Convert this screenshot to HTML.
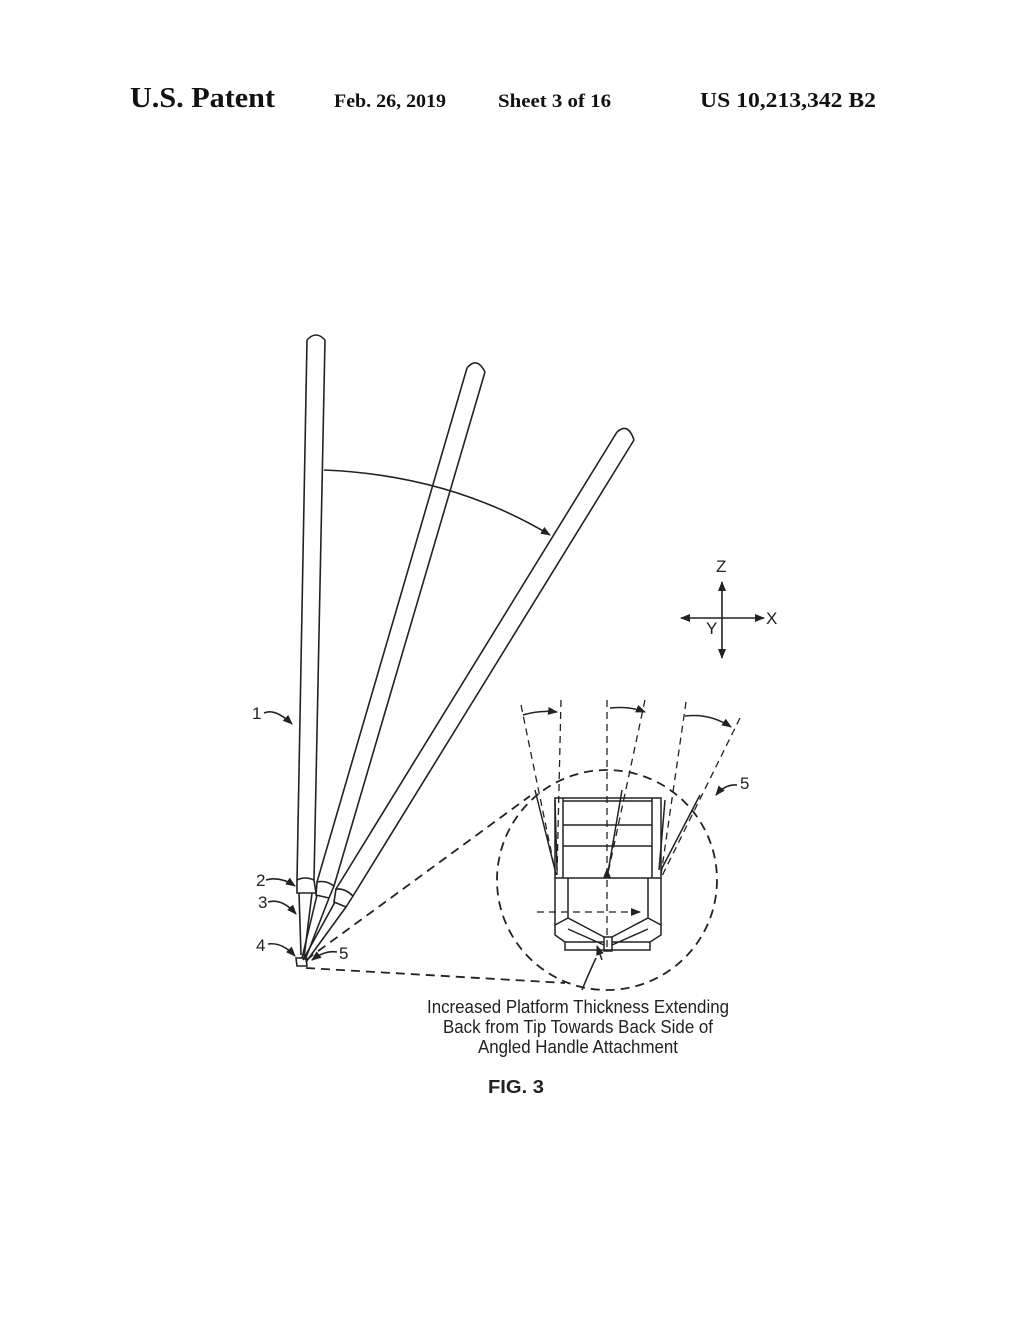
<!DOCTYPE html>
<html><head><meta charset="utf-8"><style>html,body{margin:0;padding:0;background:#fff}svg{display:block}</style></head>
<body>
<svg width="1020" height="1320" viewBox="0 0 1020 1320" xmlns="http://www.w3.org/2000/svg">
<defs><marker id="a" markerWidth="10" markerHeight="8" refX="9" refY="4" orient="auto" markerUnits="userSpaceOnUse"><path d="M0,0 L10,4 L0,8 Z" fill="#222"/></marker></defs>
<g font-family="Liberation Serif, serif" font-weight="bold" fill="#111">
<text x="130" y="107" font-size="29" textLength="145" lengthAdjust="spacingAndGlyphs">U.S. Patent</text>
<text x="334" y="107" font-size="19" textLength="112" lengthAdjust="spacingAndGlyphs">Feb. 26, 2019</text>
<text x="498" y="107" font-size="19" textLength="113" lengthAdjust="spacingAndGlyphs">Sheet 3 of 16</text>
<text x="700" y="107" font-size="21" textLength="176" lengthAdjust="spacingAndGlyphs">US 10,213,342 B2</text>
</g>
<g stroke="#222" stroke-width="1.6" fill="none">
<!-- handle 1 -->
<path d="M307,340 L297,880 M325,340 L314,880 M307,340 Q316,330 325,340"/>
<path d="M297,880 Q305,876 314,880 L316,893 L297,893 Z M299,893 L301,955 M312,893 L304,958"/>
<!-- handle 2 -->
<path d="M467,368 L317,882 M485,372 L334,886 M467,368 Q477,356 485,372"/>
<path d="M317,882 Q326,880 334,886 L329,898 L316,895 Z M317,895 L302,958 M329,898 L305,960"/>
<!-- handle 3 -->
<path d="M617,432 L336,889 M634,440 L353,896 M617,432 Q628,422 634,440"/>
<path d="M336,889 Q345,888 353,896 L346,907 L334,902 Z M335,902 L303,960 M346,907 L306,962"/>
<path d="M296,958 L306,958 L307,966 L297,966 Z"/>
<!-- angle arc -->
<path d="M324,470 Q450,475 550,535" marker-end="url(#a)"/>
<!-- axes -->
<path d="M722,618 L722,582" marker-end="url(#a)"/>
<path d="M722,618 L722,658" marker-end="url(#a)"/>
<path d="M722,618 L764,618" marker-end="url(#a)"/>
<path d="M722,618 L681,618" marker-end="url(#a)"/>
<!-- leader arrows for labels -->
<path d="M264,713 Q275,708 292,724" marker-end="url(#a)"/>
<path d="M266,880 Q280,876 295,886" marker-end="url(#a)"/>
<path d="M268,902 Q282,898 296,914" marker-end="url(#a)"/>
<path d="M268,944 Q282,942 295,956" marker-end="url(#a)"/>
<path d="M337,952 Q325,950 312,960" marker-end="url(#a)"/>
<path d="M737,785 Q725,784 716,795" marker-end="url(#a)"/>
</g>
<!-- callout dashed -->
<g stroke="#222" stroke-width="1.8" fill="none" stroke-dasharray="9,6">
<circle cx="607" cy="880" r="110"/>
<path d="M306,960 L530,796"/>
<path d="M306,968 L565,983"/>
</g>
<!-- detail -->
<g stroke="#222" stroke-width="1.5" fill="none">
<rect x="555" y="798" width="106" height="80"/>
<path d="M563,798 V878 M652,798 V878 M563,801 H652 M563,825 H652 M563,846 H652"/>
<path d="M555,878 V925 L568,918 L604,937 M661,878 V925 L648,918 L612,937 M568,878 V918 M648,878 V918"/>
<path d="M555,925 V935 L565,942 V950 H650 V942 L661,935 V925"/>
<path d="M565,942 H604 M612,942 H650 M568,929 L604,945 M648,929 L612,945"/>
<rect x="604" y="937" width="8" height="14"/>
<path d="M555,870 L535,790 M661,870 L700,795 M607,878 L622,790 M557,870 L555,800 M659,870 L665,800"/>
<path d="M596,958 Q588,975 582,990"/>
<path d="M602,960 L597,946" marker-end="url(#a)"/>
<path d="M523,715 Q540,710 557,712" marker-end="url(#a)"/>
<path d="M610,708 Q630,706 645,712" marker-end="url(#a)"/>
<path d="M685,716 Q710,713 731,727" marker-end="url(#a)"/>
</g>
<g stroke="#222" stroke-width="1.3" fill="none" stroke-dasharray="7,5">
<path d="M521,705 L556,875 M561,700 L557,875 M607,700 L607,950 M645,700 L607,878 M686,702 L661,875 M740,718 L661,878"/>
<path d="M537,912 L640,912" marker-end="url(#a)"/>
</g>
<path d="M603,878 L607,868 L611,878 Z" fill="#222"/>
<g font-family="Liberation Sans, sans-serif" fill="#222" font-size="17">
<text x="716" y="572">Z</text>
<text x="766" y="624">X</text>
<text x="706" y="634">Y</text>
<text x="252" y="719">1</text>
<text x="256" y="886">2</text>
<text x="258" y="908">3</text>
<text x="256" y="951">4</text>
<text x="339" y="959">5</text>
<text x="740" y="789">5</text>
<g font-size="18" text-anchor="middle">
<text x="578" y="1013" textLength="302" lengthAdjust="spacingAndGlyphs">Increased Platform Thickness Extending</text>
<text x="578" y="1033" textLength="270" lengthAdjust="spacingAndGlyphs">Back from Tip Towards Back Side of</text>
<text x="578" y="1053" textLength="200" lengthAdjust="spacingAndGlyphs">Angled Handle Attachment</text>
<text x="516" y="1093" font-weight="bold" textLength="56" lengthAdjust="spacingAndGlyphs">FIG. 3</text>
</g>
</g>
</svg>
</body></html>
